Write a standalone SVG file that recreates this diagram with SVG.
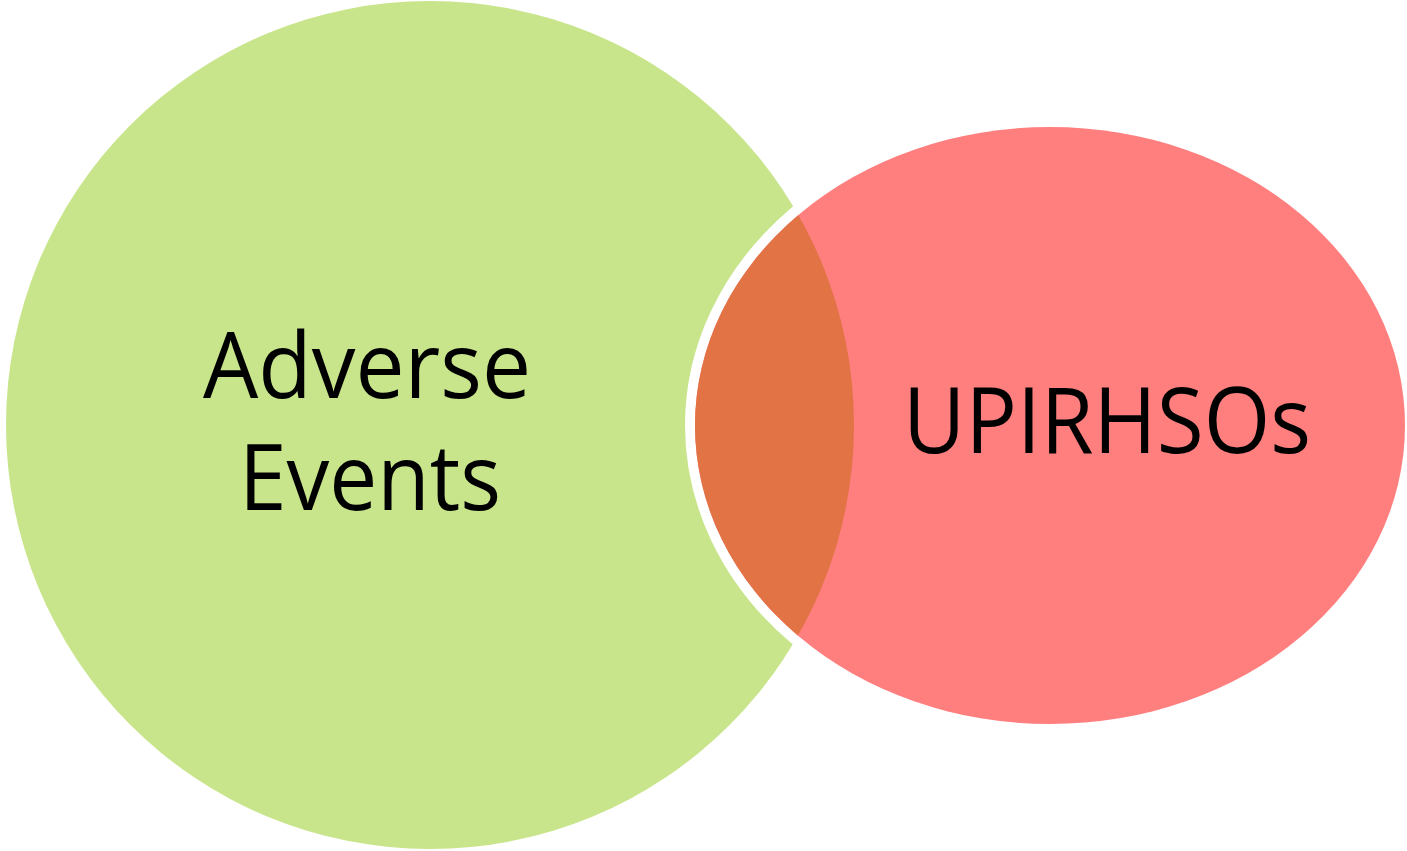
<svg xmlns="http://www.w3.org/2000/svg" width="1407" height="851" viewBox="0 0 1407 851">
<style>
.lbl{font-family:"Open Sans","Noto Sans","Liberation Sans",sans-serif;font-size:91px;fill:#000;text-anchor:middle}
</style>
<defs>
<clipPath id="ellClip"><ellipse cx="1050" cy="425.5" rx="355" ry="298.5"/></clipPath>
</defs>
<rect width="1407" height="851" fill="#fff"/>
<g id="adverse-events">
<circle cx="430" cy="425" r="424" fill="#C8E58B"/>
</g>
<g id="upirhsos">
<ellipse cx="1050" cy="425.5" rx="355" ry="298.5" fill="#FF7F7F" stroke="#fff" stroke-width="20" paint-order="stroke"/>
</g>
<g id="intersection">
<circle cx="430" cy="425" r="424" fill="#E17345" clip-path="url(#ellClip)"/>
</g>
<g id="labels">
<text class="lbl" x="367" y="398" textLength="328" lengthAdjust="spacingAndGlyphs">Adverse</text>
<text class="lbl" x="370" y="510" textLength="262" lengthAdjust="spacingAndGlyphs">Events</text>
<text class="lbl" x="1107" y="453" textLength="408" lengthAdjust="spacingAndGlyphs">UPIRHSOs</text>
</g>
</svg>
